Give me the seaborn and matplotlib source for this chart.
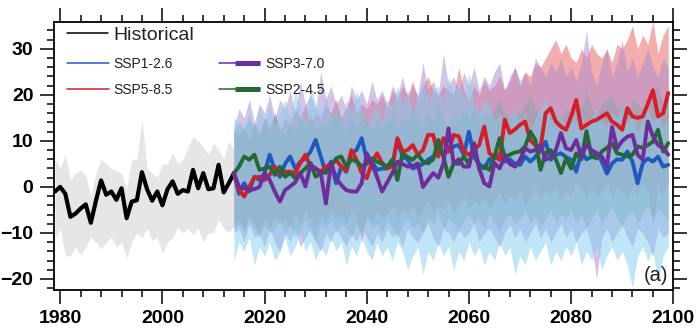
import numpy as np
import pandas as pd
import matplotlib
matplotlib.use("Agg")
import matplotlib.pyplot as plt
import seaborn as sns
from matplotlib.lines import Line2D
from matplotlib.legend_handler import HandlerBase
from matplotlib.ticker import MultipleLocator

# ---------------- data ----------------
hist_years = list(range(1979, 2015))
HIST = [-1.0, 0.0, -1.5, -6.5, -5.8, -4.7, -3.8, -7.8, -3.0, 1.4,
        -1.7, -1.0, -2.8, -0.3, -6.8, -3.2, -2.9, 3.2, -0.5, -3.0,
        -1.0, -4.0, -0.5, 1.2, -1.5, -0.7, -1.0, 3.7, -0.3, 3.0,
        -0.5, -0.3, 4.8, -1.2, 0.8, 3.0]
HIST_HI = [6, 4, 7, 1.5, 3, 3.7, 2.3, -2, 3, 6,
           5, 4, 3.5, 3, -0.5, 6, 6, 14.5, 4, 3,
           2, 5, 5, 7.4, 5, 6, 8.5, 11, 10, 8.7,
           7, 9.5, 8, 6, 10, 8]
HIST_LO = [-11, -9, -15, -15, -13, -14.8, -13, -10.8, -12, -13.5,
           -12, -11, -13, -12, -15.5, -12, -10, -11, -9, -11.6,
           -11, -14.4, -12, -11, -8.8, -10, -9, -10.5, -9, -12,
           -10, -10, -7.1, -9, -10, -8.5]

fut_years = list(range(2014, 2100))
SSP126 = [3.0,
          -1.5, 0.8, -1.0, 2.2, 1.5, 3.0, 7.0, 3.7, 2.2, 5.0,
          6.6, 4.0, 5.5, 6.2, 7.7, 10.2, 6.6, 3.0, 5.5, 0.8,
          4.4, 3.3, 7.3, 8.0, 10.6, 5.9, 5.5, 3.7, 4.0, 4.0,
          4.8, 10.2, 6.6, 5.9, 4.0, 4.4, 5.0, 5.9, 6.6, 7.3,
          7.5, 7.7, 8.8, 9.1, 7.0, 12.0, 6.5, 5.0, 4.0, 6.0,
          6.5, 7.0, 5.5, 6.0, 5.0, 4.8, 6.6, 5.5, 6.5, 8.0,
          9.8, 5.9, 7.0, 7.3, 6.5, 5.9, 3.3, 7.7, 6.0, 6.5,
          7.3, 5.5, 2.9, 5.1, 6.0, 5.9, 7.7, 5.5, 0.8, 5.1,
          6.2, 5.5, 6.6, 4.4, 4.8]
SSP585 = [3.0,
          -0.6, -2.1, 0.0, 2.0, 2.2, 1.5, 2.6, 4.4, 3.0, 3.3,
          3.3, 3.0, 5.2, 7.0, 4.4, 4.0, 3.3, 4.4, 5.0, 5.9,
          4.4, 3.5, 8.0, 5.9, 3.0, 1.9, 5.2, 7.3, 5.2, 4.0,
          4.5, 10.6, 7.7, 8.0, 9.1, 7.0, 8.0, 11.3, 11.3, 6.6,
          10.6, 7.7, 11.3, 11.0, 7.7, 7.0, 8.0, 9.1, 13.1, 7.3,
          6.5, 5.9, 14.6, 11.7, 12.5, 13.5, 14.2, 10.2, 9.0, 8.4,
          16.0, 17.1, 14.2, 13.1, 12.4, 15.3, 18.9, 12.7, 13.5, 14.2,
          14.6, 15.3, 16.0, 14.2, 13.5, 12.4, 17.1, 15.3, 15.0, 15.3,
          18.0, 21.0, 15.3, 16.0, 20.4]
SSP370 = [3.0,
          0.0, -0.3, -0.7, -0.5, 0.0, 3.0, 1.5, -1.0, -3.2, -0.7,
          0.1, 1.0, 3.0, 0.1, 4.8, 4.0, 3.0, -3.6, 5.1, 2.0,
          0.4, -0.7, -1.0, -1.0, 0.8, 7.3, 5.0, 2.2, -1.0, 1.0,
          3.0, 5.5, 5.0, 4.4, 4.5, 5.1, 0.0, 1.5, 3.0, 2.0,
          5.1, 12.7, 5.1, 6.0, 4.4, 4.4, 9.5, 4.0, 0.8, 0.1,
          5.2, 4.0, 6.6, 5.0, 4.4, 5.9, 8.4, 7.7, 8.0, 9.1,
          5.9, 6.5, 8.0, 11.7, 8.4, 8.0, 10.2, 6.6, 9.1, 8.0,
          7.3, 6.6, 4.4, 13.0, 8.4, 10.0, 10.9, 11.3, 7.0, 5.9,
          14.2, 11.0, 9.1, 8.4, 7.0]
SSP245 = [3.0,
          4.4, 6.6, 5.9, 7.0, 3.7, 4.0, 4.4, 2.6, 4.4, 2.2,
          3.0, 1.9, 3.0, 4.0, 5.2, 2.2, 3.0, 3.3, 4.4, 6.2,
          6.6, 4.4, 6.0, 5.5, 4.5, 5.0, 6.2, 5.5, 5.0, 4.4,
          5.9, 1.5, 7.3, 6.5, 5.9, 7.0, 5.5, 5.1, 6.0, 10.2,
          6.6, 2.2, 5.1, 5.0, 6.6, 5.0, 8.8, 4.0, 4.5, 3.7,
          6.6, 10.6, 6.6, 7.0, 7.5, 7.7, 8.8, 12.0, 10.2, 3.7,
          7.3, 8.0, 6.0, 3.0, 6.2, 4.0, 7.3, 6.0, 12.1, 6.6,
          6.2, 7.7, 8.5, 9.5, 7.3, 7.0, 6.6, 7.0, 8.8, 8.5,
          9.1, 9.8, 12.4, 7.7, 9.5]

# ensemble spread bands (2014-2099)
SSP126_HI = [15, 14, 13, 16, 12, 17, 14, 18, 13, 16,
             19, 15, 21, 17, 14, 22, 18, 16, 20, 15,
             17, 14, 19, 16, 21, 17, 13, 16, 18, 14,
             19, 17, 22, 18, 21, 16, 20, 23, 19, 21,
             22, 18, 24, 20, 23, 19, 25, 18, 16, 19,
             18, 14, 16, 13, 15, 17, 14, 16, 12, 15,
             17, 19, 14, 16, 15, 13, 17, 14, 16, 12,
             15, 17, 14, 13, 16, 15, 18, 14, 16, 12,
             15, 17, 14, 16, 13, 15]
SSP126_LO = [-16, -12, -14, -11, -17, -13, -15, -12, -16, -14,
             -11, -15, -13, -10, -14, -12, -16, -13, -15, -11,
             -14, -12, -17, -13, -15, -11, -14, -16, -12, -15,
             -13, -16, -12, -14, -18, -15, -13, -19, -14, -16,
             -12, -15, -13, -18, -14, -16, -12, -15, -13, -17,
             -14, -16, -12, -15, -13, -19, -15, -17, -13, -16,
             -14, -12, -17, -14, -16, -13, -15, -12, -17, -14,
             -16, -13, -18, -15, -13, -16, -14, -17, -22, -15,
             -13, -16, -14, -21, -15, -13]
SSP370_HI = [13, 17, 15, 19, 14, 18, 16, 20, 15, 19,
             17, 21, 16, 23, 18, 20, 17, 25, 19, 22,
             18, 20, 17, 22, 19, 21, 18, 23, 19, 21,
             18, 22, 20, 24, 19, 22, 20, 27, 21, 23,
             20, 29, 22, 24, 21, 25, 22, 26, 21, 24,
             22, 25, 27, 21, 24, 26, 23, 25, 22, 28,
             26, 24, 27, 25, 28, 24, 26, 23, 27, 34,
             25, 22, 27, 30, 24, 27, 32, 25, 28, 24,
             27, 30, 26, 24, 28, 26]
SSP370_LO = [-10, -9, -12, -8, -11, -10, -13, -9, -12, -14,
             -10, -12, -9, -13, -11, -9, -12, -14, -10, -12,
             -9, -11, -13, -10, -12, -9, -11, -13, -10, -12,
             -9, -11, -10, -13, -9, -11, -12, -10, -8, -11,
             -13, -9, -10, -12, -9, -11, -10, -8, -12, -10,
             -9, -11, -13, -10, -8, -11, -9, -12, -10, -8,
             -11, -9, -12, -10, -8, -11, -9, -12, -10, -9,
             -13, -20, -11, -9, -12, -10, -8, -11, -13, -9,
             -10, -12, -15, -9, -11, -10]
SSP585_HI = [12, 11, 13, 10, 14, 12, 15, 13, 16, 12,
             15, 14, 17, 15, 18, 14, 16, 15, 18, 16,
             19, 15, 17, 20, 16, 18, 17, 19, 18, 20,
             17, 21, 19, 22, 20, 23, 19, 22, 24, 21,
             20, 22, 21, 20, 26, 21, 19, 22, 20, 23,
             21, 22, 24, 21, 23, 26, 22, 25, 24, 27,
             26, 28, 30, 32, 29, 31, 28, 27, 30, 28,
             31, 29, 28, 30, 27, 31, 30, 32, 35, 30,
             33, 31, 36, 29, 33, 35]
SSP585_LO = [-8, -7, -9, -6, -8, -10, -7, -9, -6, -8,
             -7, -9, -6, -8, -5, -7, -9, -6, -8, -5,
             -7, -6, -8, -5, -7, -12, -6, -8, -5, -7,
             -6, -4, -7, -5, -6, -4, -7, -5, -3, -6,
             -4, -5, -3, -6, -4, -2, -5, -3, -4, -2,
             -5, -3, -1, -4, -2, -3, -1, -4, -2, 0,
             -3, -1, -2, 0, -3, -1, -2, 1, -1, -3,
             0, -2, -1, 1, -2, 0, -1, -3, 0, -2,
             1, -1, -8, 0, -2, 1]
SSP245_HI = [12, 14, 12, 15, 13, 11, 14, 12, 16, 13,
             11, 14, 12, 15, 13, 16, 12, 14, 13, 15,
             17, 14, 12, 15, 13, 16, 14, 12, 15, 13,
             14, 16, 13, 15, 14, 17, 15, 13, 16, 14,
             18, 15, 13, 16, 14, 17, 15, 18, 14, 16,
             15, 17, 19, 16, 15, 17, 16, 18, 20, 17,
             15, 17, 18, 16, 15, 17, 16, 18, 17, 21,
             17, 16, 18, 19, 20, 17, 18, 16, 19, 18,
             17, 19, 20, 22, 18, 19]
SSP245_LO = [-9, -8, -10, -7, -9, -11, -8, -10, -9, -7,
             -10, -8, -11, -9, -7, -10, -12, -8, -9, -7,
             -10, -8, -9, -11, -8, -10, -7, -9, -8, -10,
             -7, -9, -11, -8, -7, -9, -8, -10, -7, -8,
             -6, -9, -7, -8, -10, -7, -6, -8, -7, -9,
             -6, -8, -10, -7, -6, -8, -7, -5, -8, -6,
             -9, -7, -5, -8, -6, -7, -5, -8, -6, -9,
             -7, -5, -8, -6, -4, -7, -9, -6, -5, -8,
             -6, -4, -7, -5, -6, -7]

scenarios = ["SSP1-2.6", "SSP5-8.5", "SSP2-4.5", "SSP3-7.0"]
line_colors = {"SSP1-2.6": "#1E5ABE", "SSP5-8.5": "#D71E28",
               "SSP2-4.5": "#236932", "SSP3-7.0": "#6E2D9B"}

# ---------------- style ----------------
sns.set_style("ticks")
plt.rcParams["font.family"] = ["Liberation Sans", "DejaVu Sans"]

fig = plt.figure(figsize=(7, 3.35), dpi=100)
ax = fig.add_axes([0.0776, 0.1358, 0.8843, 0.7994])

df_hist = pd.DataFrame({"year": hist_years, "value": HIST})
df_fut = pd.concat([
    pd.DataFrame({"year": fut_years, "value": v, "scenario": n})
    for n, v in [("SSP1-2.6", SSP126), ("SSP5-8.5", SSP585),
                 ("SSP2-4.5", SSP245), ("SSP3-7.0", SSP370)]
], ignore_index=True)

# bands
ax.fill_between(hist_years, HIST_LO, HIST_HI, color="#E6E6E6", lw=0, zorder=1)
bands = [(SSP585_LO, SSP585_HI, "#EC6A6A", 0.55),
         (SSP245_LO, SSP245_HI, "#5CC27A", 0.45),
         (SSP370_LO, SSP370_HI, "#A88BD0", 0.50),
         (SSP126_LO, SSP126_HI, "#80CDEF", 0.50)]
for lo, hi, c, a in bands:
    ax.fill_between(fut_years, lo, hi, color=c, alpha=a, lw=0, zorder=2)

sns.lineplot(data=df_hist, x="year", y="value", color="black", lw=3.0,
             errorbar=None, ax=ax, zorder=5)
sns.lineplot(data=df_fut, x="year", y="value", hue="scenario",
             hue_order=scenarios, palette=line_colors, lw=2.8,
             errorbar=None, legend=False, ax=ax, zorder=6)

ax.set_xlim(1978.85, 2100)
ax.set_ylim(-22.3, 35.9)
ax.set_xlabel("")
ax.set_ylabel("")
ax.xaxis.set_major_locator(MultipleLocator(20))
ax.xaxis.set_minor_locator(MultipleLocator(4))
ax.yaxis.set_major_locator(MultipleLocator(10))
ax.yaxis.set_minor_locator(MultipleLocator(2))
ax.tick_params(which="both", direction="out", top=True, right=True,
               labeltop=False, labelright=False, color="black",
               labelcolor="black")
ax.tick_params(which="major", length=10, width=1.1, labelsize=14, pad=5)
ax.tick_params(which="minor", length=5, width=1.1)
for lab in ax.get_xticklabels() + ax.get_yticklabels():
    lab.set_fontweight("bold")
for s in ax.spines.values():
    s.set_visible(True)
    s.set_linewidth(1.3)
    s.set_color("black")

ax.text(0.991, 0.054, "(a)", transform=ax.transAxes, ha="right",
        va="center", fontsize=14.5, color="#222222", zorder=10)


class ThinThick(HandlerBase):
    def create_artists(self, legend, orig_handle, xdescent, ydescent,
                       width, height, fontsize, trans):
        c = orig_handle.get_color()
        y = (height - ydescent) / 2.0
        thin = Line2D([-xdescent, -xdescent + width], [y, y], color=c, lw=1.1)
        thick = Line2D([-xdescent + 0.4 * width, -xdescent + width], [y, y],
                       color=c, lw=3.6, solid_capstyle="butt")
        thin.set_transform(trans)
        thick.set_transform(trans)
        return [thin, thick]


h_hist = Line2D([], [], color="black", lw=1.1)
fig.legend([h_hist], ["Historical"], loc="upper left",
           bbox_to_anchor=(67 / 700, 1 - 26 / 335), frameon=False,
           fontsize=14, handlelength=2.1, handletextpad=0.3, borderpad=0,
           borderaxespad=0, labelcolor="#222222")

p126 = Line2D([], [], color=line_colors["SSP1-2.6"], lw=1.1)
p585 = Line2D([], [], color=line_colors["SSP5-8.5"], lw=1.1)
p370 = Line2D([], [], color=line_colors["SSP3-7.0"], lw=1.1)
p245 = Line2D([], [], color=line_colors["SSP2-4.5"], lw=1.1)
fig.legend([p126, p585, p370, p245],
           ["SSP1-2.6", "SSP5-8.5", "SSP3-7.0", "SSP2-4.5"], ncol=2,
           loc="upper left", bbox_to_anchor=(67 / 700, 1 - 57 / 335),
           frameon=False, fontsize=10, handlelength=3.0, handletextpad=0.35,
           columnspacing=3.3, labelspacing=0.85, borderpad=0,
           borderaxespad=0, labelcolor="#222222",
           handler_map={p370: ThinThick(), p245: ThinThick()})

fig.savefig("out.png", dpi=100)
